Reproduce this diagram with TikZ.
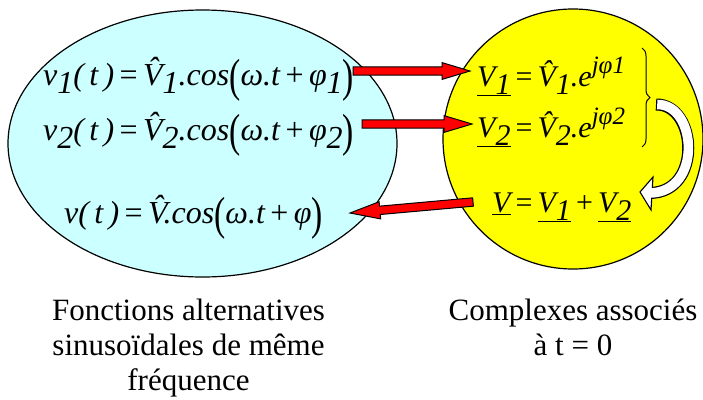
\documentclass[tikz,border=0pt]{standalone}
\usepackage{fontspec}
\setmainfont{Liberation Serif}
\usepackage{graphicx}
\usetikzlibrary{calc,shapes.geometric,decorations.pathreplacing}
\definecolor{lcyan}{HTML}{CCFFFF}
\definecolor{ylw}{HTML}{FFFF00}
\definecolor{rd}{HTML}{FF0000}
\newcommand\fsub[1]{\raisebox{-0.27em}{#1}}
\newcommand\fsup[1]{\raisebox{0.42em}{\fontsize{25}{25}\selectfont #1}}
\newcommand\hV{V\char"0302}
\newcommand\bp[1]{\raisebox{-0.2em}{\scalebox{1.05}[1.45]{\upshape #1}}}
\newcommand\eq{\hspace{0.17em}\upshape=\itshape\hspace{0.17em}}
\newcommand\pl{\hspace{0.17em}\upshape+\itshape\hspace{0.17em}}
\newcommand\ulv[1]{\underline{#1}}
\newcommand\blockarrow[5]{%
  \coordinate (bah) at ($(#2)!#5!(#1)$);
  \filldraw[redarrow] ($(#1)!#3!90:(#2)$) -- ($(bah)!#3!90:(#2)$) -- ($(bah)!#4!90:(#2)$) -- (#2)
    -- ($(bah)!#4!-90:(#2)$) -- ($(bah)!#3!-90:(#2)$) -- ($(#1)!#3!-90:(#2)$) -- cycle;}
\tikzset{
  formula/.style={anchor=base west, inner sep=0pt, font=\fontsize{32}{36}\selectfont\itshape},
  cformula/.style={anchor=base west, inner sep=0pt, font=\fontsize{30}{36}\selectfont\itshape},
  caption/.style={anchor=base, inner sep=0pt, align=center, font=\fontsize{31}{35}\selectfont},
  redarrow/.style={fill=rd, draw=black, line width=1pt, line join=miter},
}
\begin{document}
\begin{tikzpicture}[x=1pt,y=-1pt]
\useasboundingbox (0,0) rectangle (703,399);
\node[ellipse, draw, fill=lcyan, line width=1.2pt, minimum width=389pt, minimum height=267pt, inner sep=0pt] (left) at (202.5,143.5) {};
\node[circle, draw, fill=ylw, line width=1.2pt, minimum size=260pt, inner sep=0pt] (right) at (573,139) {};
% left formulas
\node[formula] (f1) at (43,85) {v\fsub{1}(\,t\,)\eq\hV\fsub{1}.cos\bp{(}ω.t\pl φ\fsub{1}\bp{)}};
\node[formula] (f2) at (43,140) {v\fsub{2}(\,t\,)\eq\hV\fsub{2}.cos\bp{(}ω.t\pl φ\fsub{2}\bp{)}};
\node[formula] (f3) at (64,223) {v(\,t\,)\eq\hV.cos\bp{(}ω.t\pl φ\bp{)}};
% right formulas
\node[cformula] (c1) at (477,86) {\ulv{V\fsub{1}}\eq\hV\fsub{1}.e\fsup{jφ1}};
\node[cformula] (c2) at (477,137) {\ulv{V\fsub{2}}\eq\hV\fsub{2}.e\fsup{jφ2}};
\node[cformula] (c3) at (492,212) {\ulv{V}\eq\ulv{V\fsub{1}}\pl\ulv{V\fsub{2}}};
% captions
\node[caption] (cap1) at (188.5,390) {Fonctions alternatives\\sinusoïdales de même\\fréquence};
\node[caption] (cap2) at (573,355) {Complexes associés\\à t = 0};
% red arrows
\coordinate (a1s) at (353,71); \coordinate (a1e) at (470,71);
\coordinate (a2s) at (362,124); \coordinate (a2e) at (472,124);
\coordinate (a3s) at (473,202); \coordinate (a3e) at (350,213);
\blockarrow{a1s}{a1e}{4.2pt}{8.4pt}{28pt}
\blockarrow{a2s}{a2e}{4.2pt}{8.4pt}{28pt}
\blockarrow{a3s}{a3e}{4.2pt}{8.6pt}{30pt}
% brace
\coordinate (bt) at (642,48); \coordinate (bb) at (642,147);
\draw[line width=1pt, decorate, decoration={brace, amplitude=8pt}] (bt) -- (bb);
% white curved arrow
\coordinate (ws) at (656,104.5); \coordinate (wc1) at (697,104); \coordinate (wc2) at (703,192); \coordinate (we) at (650,193);
\coordinate (wtip) at (640,192); \coordinate (wup) at (653,177); \coordinate (wlo) at (651,210);
\draw[line width=12pt] (ws) .. controls (wc1) and (wc2) .. (we);
\filldraw[fill=white, draw=black, line width=1.1pt, line join=miter] (wtip) -- (wup) -- (wlo) -- cycle;
\draw[white, line width=9.6pt, shorten <=1.2pt] (ws) .. controls (wc1) and (wc2) .. (we);
\end{tikzpicture}
\end{document}
